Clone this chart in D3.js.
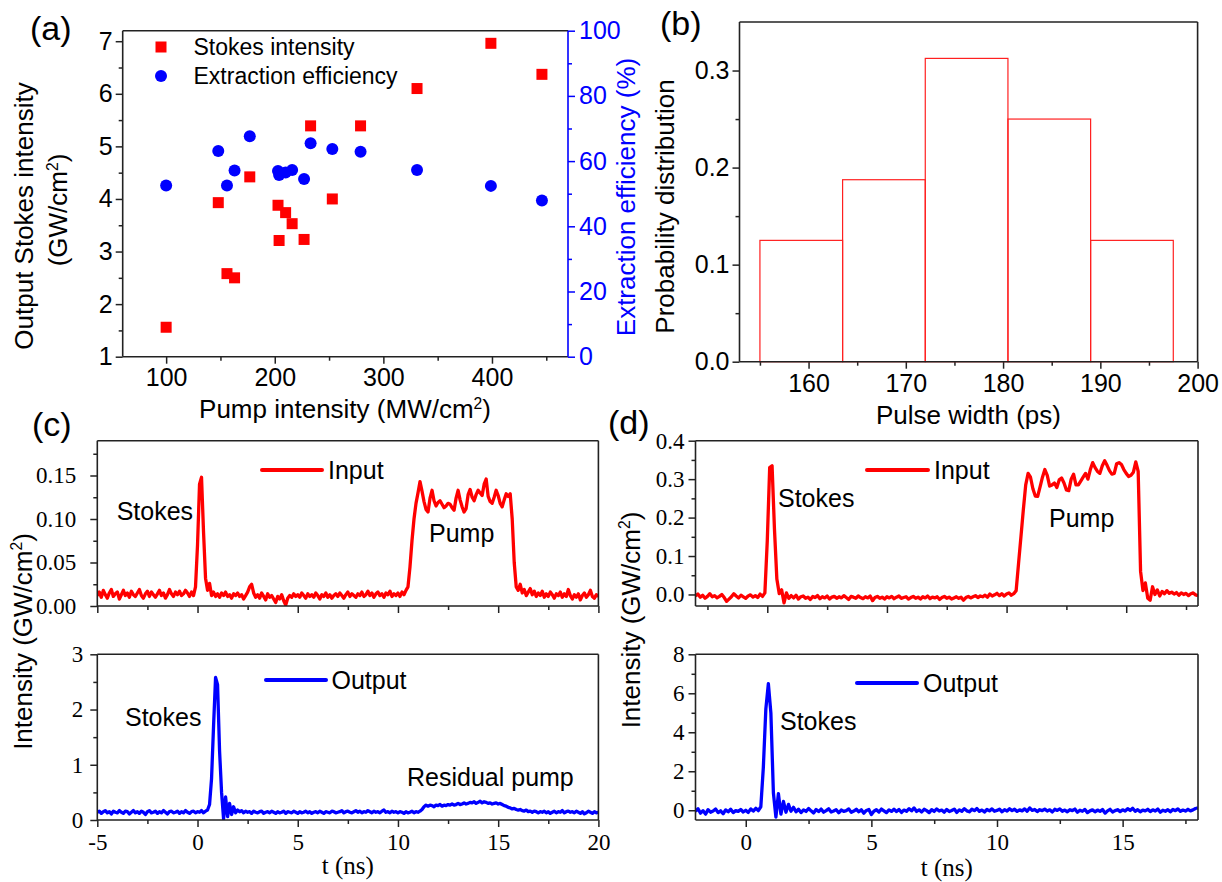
<!DOCTYPE html>
<html><head><meta charset="utf-8">
<script src="https://cdn.jsdelivr.net/npm/d3@7"></script>
<style>body{margin:0;background:#fff}</style>
</head><body>
<script>
// ---------------- DATA ----------------
// (a) scatter
const pumpIntensity   = [100, 148, 156, 163, 177, 203, 204, 210, 216, 227, 233, 253, 279, 331, 399, 446];
const stokesIntensity = [1.56, 3.93, 2.58, 2.50, 4.42, 3.88, 3.21, 3.74, 3.53, 3.23, 5.39, 4.00, 5.39, 6.10, 6.96, 6.37];
const extractionEff   = [52.5, 63.1, 52.5, 57.1, 67.6, 57.0, 55.7, 56.5, 57.3, 54.5, 65.5, 63.7, 62.9, 57.3, 52.4, 47.9];
const aXTicks = [100, 200, 300, 400];
const aYTicks = [1, 2, 3, 4, 5, 6, 7];
const aY2Ticks = [0, 20, 40, 60, 80, 100];

// (b) histogram
const histEdges = [155, 163.5, 172, 180.5, 189, 197.5];
const histProb  = [0.125, 0.1875, 0.3125, 0.25, 0.125];
const bXTicks = [160, 170, 180, 190, 200];
const bYTicks = [0, 0.1, 0.2, 0.3];

// (c) time traces, sampled every 0.1 ns from -5 ns
const cStart = -5, cStep = 0.1;
const cInput = [
0.012,0.016,0.010,0.018,0.013,0.009,0.015,0.019,0.011,0.014,
0.016,0.008,0.013,0.018,0.012,0.015,0.010,0.017,0.013,0.011,
0.015,0.019,0.012,0.009,0.014,0.017,0.011,0.016,0.013,0.010,
0.014,0.018,0.012,0.015,0.009,0.013,0.019,0.014,0.011,0.016,
0.013,0.017,0.012,0.014,0.018,0.015,0.011,0.016,0.012,0.022,
0.070,0.140,0.148,0.085,0.032,0.018,0.026,0.012,0.016,0.011,
0.014,0.010,0.015,0.012,0.016,0.011,0.013,0.009,0.014,0.012,
0.015,0.011,0.013,0.008,0.012,0.016,0.022,0.025,0.015,0.010,
0.013,0.009,0.015,0.011,0.007,0.014,0.010,0.012,0.008,0.004,
0.011,0.008,0.013,0.006,0.001,0.009,0.012,0.010,0.014,0.011,
0.013,0.010,0.015,0.012,0.009,0.014,0.011,0.013,0.010,0.015,
0.012,0.008,0.013,0.011,0.015,0.010,0.013,0.009,0.012,0.014,
0.011,0.015,0.012,0.009,0.013,0.016,0.011,0.014,0.012,0.010,
0.014,0.012,0.016,0.011,0.013,0.017,0.012,0.015,0.010,0.014,
0.016,0.012,0.014,0.010,0.015,0.013,0.017,0.011,0.014,0.012,
0.015,0.011,0.016,0.013,0.018,0.022,0.045,0.075,0.100,0.118,
0.130,0.143,0.132,0.120,0.111,0.108,0.124,0.133,0.121,0.115,
0.119,0.121,0.117,0.113,0.115,0.118,0.117,0.113,0.110,0.124,
0.133,0.122,0.114,0.108,0.112,0.128,0.134,0.125,0.121,0.128,
0.133,0.130,0.127,0.140,0.146,0.126,0.120,0.118,0.125,0.133,
0.127,0.118,0.114,0.122,0.129,0.126,0.129,0.100,0.050,0.022,
0.018,0.025,0.015,0.019,0.012,0.016,0.020,0.013,0.017,0.011,
0.015,0.012,0.017,0.010,0.014,0.011,0.016,0.013,0.009,0.014,
0.012,0.016,0.010,0.014,0.011,0.019,0.012,0.008,0.013,0.010,
0.014,0.007,0.012,0.015,0.010,0.013,0.018,0.011,0.009,0.013,
0.011];
const cOutput = [
0.14,0.16,0.12,0.15,0.17,0.13,0.15,0.11,0.16,0.14,
0.13,0.17,0.14,0.12,0.16,0.15,0.11,0.14,0.17,0.13,
0.15,0.12,0.16,0.14,0.10,0.15,0.17,0.13,0.14,0.16,
0.12,0.15,0.13,0.17,0.14,0.11,0.15,0.16,0.13,0.14,
0.16,0.12,0.15,0.13,0.17,0.14,0.12,0.15,0.16,0.13,
0.15,0.14,0.17,0.13,0.16,0.18,0.28,0.75,1.70,2.58,
2.45,1.25,0.50,0.02,0.42,0.06,0.30,0.10,0.24,0.13,
0.18,0.15,0.17,0.13,0.16,0.14,0.15,0.12,0.16,0.14,
0.13,0.15,0.16,0.12,0.14,0.15,0.13,0.16,0.14,0.12,
0.15,0.13,0.14,0.16,0.12,0.15,0.14,0.13,0.16,0.14,
0.12,0.15,0.13,0.14,0.16,0.13,0.15,0.12,0.14,0.15,
0.13,0.16,0.14,0.12,0.15,0.14,0.13,0.16,0.15,0.13,
0.14,0.15,0.17,0.13,0.15,0.16,0.14,0.13,0.15,0.17,
0.14,0.16,0.13,0.15,0.14,0.17,0.15,0.13,0.16,0.14,
0.15,0.13,0.16,0.18,0.14,0.15,0.13,0.16,0.14,0.15,
0.13,0.15,0.14,0.12,0.15,0.13,0.14,0.16,0.13,0.15,
0.14,0.16,0.19,0.24,0.27,0.25,0.27,0.26,0.24,0.27,
0.26,0.28,0.25,0.27,0.26,0.28,0.27,0.29,0.27,0.28,
0.30,0.28,0.29,0.31,0.29,0.30,0.32,0.31,0.33,0.30,
0.32,0.34,0.31,0.33,0.32,0.30,0.31,0.29,0.30,0.31,
0.29,0.30,0.28,0.26,0.25,0.23,0.22,0.20,0.21,0.19,
0.18,0.19,0.17,0.16,0.18,0.15,0.16,0.14,0.16,0.15,
0.13,0.15,0.14,0.16,0.13,0.15,0.12,0.14,0.16,0.13,
0.15,0.14,0.17,0.13,0.15,0.16,0.14,0.15,0.13,0.16,
0.14,0.12,0.15,0.11,0.13,0.16,0.14,0.12,0.15,0.13,
0.14];

// (d) input trace from -3 ns, output trace from -2 ns, step 0.1 ns
const dInStart = -3, dOutStart = -2, dStep = 0.1;
const dInput = [
-0.004,0.001,-0.007,-0.002,-0.010,-0.005,0.002,-0.006,-0.003,-0.009,
-0.005,0.000,-0.008,-0.018,-0.012,-0.006,0.002,-0.004,-0.009,-0.002,
-0.006,-0.010,-0.004,-0.001,-0.007,-0.003,-0.008,0.001,-0.005,0.004,
0.140,0.330,0.335,0.170,0.040,0.002,0.012,-0.022,0.004,-0.010,
-0.003,-0.009,-0.002,-0.012,-0.006,-0.004,-0.010,-0.007,-0.013,-0.005,
-0.008,-0.003,-0.011,-0.006,-0.009,-0.004,-0.012,-0.007,-0.005,-0.010,
-0.006,-0.009,-0.003,-0.008,-0.013,-0.005,-0.007,-0.010,-0.004,-0.008,
-0.011,-0.006,-0.009,-0.004,-0.016,-0.008,-0.005,-0.010,-0.007,-0.012,
-0.006,-0.009,-0.005,-0.011,-0.007,-0.004,-0.010,-0.008,-0.006,-0.012,
-0.008,-0.005,-0.010,-0.007,-0.012,-0.006,-0.009,-0.004,-0.011,-0.007,
-0.009,-0.006,-0.013,-0.008,-0.005,-0.010,-0.007,-0.012,-0.009,-0.006,
-0.010,-0.007,-0.015,-0.008,-0.005,-0.009,-0.006,-0.003,-0.008,-0.004,
-0.006,-0.002,-0.007,0.001,-0.004,-0.001,0.003,-0.003,0.002,-0.004,
0.001,0.004,-0.002,0.002,0.010,0.080,0.150,0.220,0.285,0.315,
0.305,0.275,0.256,0.255,0.280,0.305,0.325,0.310,0.282,0.285,
0.290,0.278,0.298,0.303,0.290,0.272,0.270,0.300,0.313,0.285,
0.285,0.295,0.305,0.315,0.300,0.325,0.343,0.330,0.320,0.315,
0.335,0.348,0.336,0.322,0.313,0.315,0.340,0.343,0.338,0.325,
0.315,0.307,0.310,0.318,0.345,0.320,0.060,0.010,0.030,-0.010,
-0.015,0.020,0.000,0.012,-0.004,0.008,0.002,0.010,0.003,0.006,
0.001,0.005,-0.002,0.004,0.000,0.003,-0.003,0.002,0.004,-0.001,
-0.003];
const dOutput = [
-0.05,0.08,-0.15,-0.02,-0.20,0.03,-0.10,-0.04,0.06,-0.12,
-0.03,-0.18,0.02,-0.08,0.05,-0.12,-0.02,-0.06,0.04,-0.09,
0.00,-0.11,0.07,-0.04,0.10,-0.02,0.18,2.20,5.20,6.50,
5.00,0.90,-0.35,0.85,-0.20,0.45,-0.10,0.30,-0.05,0.15,
-0.08,0.05,-0.12,0.02,-0.06,0.09,-0.03,-0.14,0.04,-0.07,
0.06,-0.10,-0.02,0.08,-0.09,-0.04,0.03,-0.13,0.01,-0.06,
-0.02,0.07,-0.11,-0.04,0.05,-0.08,0.02,-0.15,-0.01,0.04,
-0.22,-0.05,0.03,-0.09,0.06,-0.03,-0.12,0.02,-0.06,0.05,
-0.07,0.04,-0.11,0.01,-0.05,0.08,-0.03,0.12,-0.06,0.02,
-0.09,0.05,-0.02,-0.12,0.03,-0.06,0.07,-0.04,0.01,-0.10,
0.04,-0.07,-0.01,0.06,-0.11,0.02,-0.05,0.08,-0.03,-0.08,
0.05,-0.02,0.09,-0.06,0.01,-0.09,0.04,-0.03,0.07,-0.05,
-0.01,0.06,-0.08,0.03,-0.04,0.08,-0.02,0.05,-0.06,0.02,
-0.03,0.07,-0.05,0.12,-0.01,0.04,-0.07,0.03,-0.02,0.06,
-0.04,0.02,-0.09,0.05,-0.01,0.07,-0.05,0.01,-0.08,0.03,
-0.02,0.06,-0.10,0.00,-0.05,0.04,-0.12,-0.03,0.02,-0.08,
0.01,-0.06,0.04,-0.15,-0.03,0.05,-0.09,-0.02,0.03,-0.07,
0.02,-0.04,0.08,-0.01,0.10,-0.05,0.03,-0.08,0.01,-0.03,
0.05,-0.07,0.02,-0.04,0.06,-0.10,0.00,-0.05,0.03,-0.08,
0.04,-0.02,0.07,-0.06,0.01,-0.04,0.05,-0.03,0.02,0.09,
0.12];

// ---------------- DRAWING ----------------
const SANS = "'Liberation Sans', Arial, Helvetica, sans-serif";
const SERIF = "'Liberation Serif', 'Times New Roman', serif";
const RED = "#ff0000", BLUE = "#0000ff", AX = "#222";

const svg = d3.select("body").append("svg")
  .attr("width", 1222).attr("height", 882)
  .style("background", "#fff");

function axis(kind, scale, pos, major, minor, fmt, o) {
  const mk = kind === "bottom" ? d3.axisBottom : kind === "left" ? d3.axisLeft : d3.axisRight;
  const tr = kind === "bottom" ? `translate(0,${pos})` : `translate(${pos},0)`;
  const col = o.color || AX;
  const gm = svg.append("g").attr("transform", tr)
    .call(mk(scale).tickValues(minor).tickSize(4).tickFormat(""));
  const gM = svg.append("g").attr("transform", tr)
    .call(mk(scale).tickValues(major).tickSize(7).tickPadding(o.pad).tickFormat(fmt));
  [gm, gM].forEach(a => {
    a.select(".domain").remove();
    a.selectAll("line").attr("stroke", col).attr("stroke-width", 1.5);
  });
  gM.selectAll("text").attr("font-family", o.font).attr("font-size", o.size)
    .attr("fill", o.textColor || "#000");
}

function frame(l, r, t, b, rightColor) {
  const g = svg.append("g").attr("stroke-width", 1.6).attr("fill", "none");
  g.append("line").attr("x1", l).attr("x2", r).attr("y1", t).attr("y2", t).attr("stroke", AX);
  g.append("line").attr("x1", l).attr("x2", r).attr("y1", b).attr("y2", b).attr("stroke", AX);
  g.append("line").attr("x1", l).attr("x2", l).attr("y1", t).attr("y2", b).attr("stroke", AX);
  g.append("line").attr("x1", r).attr("x2", r).attr("y1", t).attr("y2", b).attr("stroke", rightColor || AX);
}

function label(x, y, str, fs, opts = {}) {
  const t = svg.append("text").attr("x", x).attr("y", y)
    .attr("font-family", opts.font || SANS).attr("font-size", fs)
    .attr("fill", opts.fill || "#000")
    .attr("text-anchor", opts.anchor || "start");
  if (opts.rotate) {
    t.attr("x", null).attr("y", null)
     .attr("transform", `translate(${x},${y}) rotate(-90)`);
  }
  if (opts.sup) {
    t.append("tspan").text(str);
    t.append("tspan").attr("font-size", fs * 0.6).attr("dy", -fs * 0.36).text(opts.sup);
    t.append("tspan").attr("font-size", fs).attr("dy", fs * 0.36).text(opts.after || "");
  } else {
    t.text(str);
  }
  return t;
}

function clip(id, l, r, t, b) {
  svg.append("clipPath").attr("id", id).append("rect")
    .attr("x", l).attr("y", t).attr("width", r - l).attr("height", b - t);
}

const plain = d => String(d);

// ===== (a) =====
const A = {l: 122.7, r: 568, t: 30.7, b: 356.7};
const xA = d3.scaleLinear().domain([60, 470]).range([A.l, A.r]);
const yA = d3.scaleLinear().domain([1, 7.2]).range([A.b, A.t]);
const yA2 = d3.scaleLinear().domain([0, 100]).range([A.b, A.t]);

axis("bottom", xA, A.b, aXTicks, [150, 250, 350, 450], plain, {pad: 5, font: SANS, size: 25});
axis("left", yA, A.l, aYTicks, [1.5, 2.5, 3.5, 4.5, 5.5, 6.5], plain, {pad: 3, font: SANS, size: 25});
axis("right", yA2, A.r, aY2Ticks, [10, 30, 50, 70, 90], plain, {pad: 4, font: SANS, size: 25, color: BLUE, textColor: BLUE});
frame(A.l, A.r, A.t, A.b, BLUE);

svg.append("g").selectAll("rect").data(pumpIntensity).join("rect")
  .attr("x", (d, i) => xA(d) - 5.5).attr("y", (d, i) => yA(stokesIntensity[i]) - 5.5)
  .attr("width", 11).attr("height", 11).attr("fill", RED);
svg.append("g").selectAll("circle").data(pumpIntensity).join("circle")
  .attr("cx", d => xA(d)).attr("cy", (d, i) => yA2(extractionEff[i]))
  .attr("r", 6).attr("fill", BLUE);

// legend
svg.append("rect").attr("x", 155.5).attr("y", 41.5).attr("width", 11).attr("height", 11).attr("fill", RED);
label(193.5, 55, "Stokes intensity", 23);
svg.append("circle").attr("cx", 161).attr("cy", 76).attr("r", 6).attr("fill", BLUE);
label(193.5, 84, "Extraction efficiency", 23);

label(33, 216, "Output Stokes intensity", 26, {rotate: true, anchor: "middle"});
label(67, 210, "(GW/cm", 26, {rotate: true, anchor: "middle", sup: "2", after: ")"});
label(634.5, 197, "Extraction efficiency (%)", 26, {rotate: true, anchor: "middle", fill: BLUE});
label(345, 418, "Pump intensity (MW/cm", 26, {anchor: "middle", sup: "2", after: ")"});
label(30, 40, "(a)", 34);

// ===== (b) =====
const B = {l: 739.5, r: 1197.6, t: 22, b: 361.7};
const xB = d3.scaleLinear().domain([152.9, 200]).range([B.l, B.r]);
const yB = d3.scaleLinear().domain([0, 0.35]).range([B.b, B.t]);
axis("bottom", xB, B.b, bXTicks, [155, 165, 175, 185, 195], plain, {pad: 6, font: SANS, size: 25});
axis("left", yB, B.l, bYTicks, [0.05, 0.15, 0.25], d3.format(".1f"), {pad: 3, font: SANS, size: 25});
svg.append("g").selectAll("rect").data(histProb).join("rect")
  .attr("x", (d, i) => xB(histEdges[i]))
  .attr("width", (d, i) => xB(histEdges[i + 1]) - xB(histEdges[i]))
  .attr("y", d => yB(d)).attr("height", d => yB(0) - yB(d))
  .attr("fill", "none").attr("stroke", "#ff2020").attr("stroke-width", 1.2);
frame(B.l, B.r, B.t, B.b);
label(674.2, 206.5, "Probability distribution", 26, {rotate: true, anchor: "middle"});
label(968.5, 424, "Pulse width (ps)", 26, {anchor: "middle"});
label(660, 35, "(b)", 34);

// ===== trace helper =====
function trace(values, start, step, xs, ys, color, clipId) {
  const pts = values.map((v, i) => [start + i * step, v]);
  svg.append("path").datum(pts)
    .attr("clip-path", `url(#${clipId})`)
    .attr("d", d3.line().x(d => xs(d[0])).y(d => ys(d[1])))
    .attr("fill", "none").attr("stroke", color).attr("stroke-width", 3.3)
    .attr("stroke-linejoin", "round");
}
function legendLine(x1, x2, y, color, txt, tx, ty) {
  svg.append("line").attr("x1", x1).attr("x2", x2).attr("y1", y).attr("y2", y)
    .attr("stroke", color).attr("stroke-width", 4).attr("stroke-linecap", "round");
  label(tx, ty, txt, 25);
}

// ===== (c) =====
const C = {l: 97.3, r: 598.4};
const C1 = {t: 440.7, b: 606}, C2 = {t: 654.3, b: 820};
const xC = d3.scaleLinear().domain([-5, 20]).range([C.l, C.r]);
const yC1 = d3.scaleLinear().domain([0, 0.19]).range([C1.b, C1.t]);
const yC2 = d3.scaleLinear().domain([0, 3]).range([C2.b, C2.t]);
clip("clipC1", C.l, C.r, C1.t, C1.b);
clip("clipC2", C.l, C.r, C2.t, C2.b);
const cXMinor = [-2.5, 2.5, 7.5, 12.5, 17.5];
axis("bottom", xC, C1.b, [-5, 0, 5, 10, 15, 20], cXMinor, () => "", {pad: 6, font: SERIF, size: 23});
axis("bottom", xC, C2.b, [-5, 0, 5, 10, 15, 20], cXMinor, plain, {pad: 7, font: SERIF, size: 23});
axis("left", yC1, C.l, [0, 0.05, 0.10, 0.15], [0.025, 0.075, 0.125, 0.175], d3.format(".2f"), {pad: 14, font: SERIF, size: 23});
axis("left", yC2, C.l, [0, 1, 2, 3], [0.5, 1.5, 2.5], plain, {pad: 7, font: SERIF, size: 23});
trace(cInput, cStart, cStep, xC, yC1, RED, "clipC1");
trace(cOutput, cStart, cStep, xC, yC2, BLUE, "clipC2");
frame(C.l, C.r, C1.t, C1.b);
frame(C.l, C.r, C2.t, C2.b);
legendLine(262, 322, 470, RED, "Input", 328, 479);
legendLine(266, 326, 680, BLUE, "Output", 331.5, 688.5);
label(116.7, 520, "Stokes", 25);
label(429, 541.5, "Pump", 25);
label(125, 726, "Stokes", 25);
label(407, 786, "Residual pump", 25);
label(31.5, 641.5, "Intensity (GW/cm", 26, {rotate: true, anchor: "middle", sup: "2", after: ")"});
label(347.8, 874, "t (ns)", 25, {anchor: "middle", font: SERIF});
label(32, 436, "(c)", 34);

// ===== (d) =====
const D = {l: 695.5, r: 1198};
const D1 = {t: 440.7, b: 606}, D2 = {t: 654.3, b: 820};
const xD1 = d3.scaleLinear().domain([-3, 18]).range([D.l, D.r]);
const xD2 = d3.scaleLinear().domain([-2, 18]).range([D.l, D.r]);
const yD1 = d3.scaleLinear().domain([-0.03, 0.4]).range([D1.b, D1.t]);
const yD2 = d3.scaleLinear().domain([-0.5, 8]).range([D2.b, D2.t]);
clip("clipD1", D.l, D.r, D1.t, D1.b);
clip("clipD2", D.l, D.r, D2.t, D2.b);
axis("bottom", xD1, D1.b, [0, 5, 10, 15], [-2.5, 2.5, 7.5, 12.5, 17.5], () => "", {pad: 6, font: SERIF, size: 23});
axis("bottom", xD2, D2.b, [0, 5, 10, 15], [2.5, 7.5, 12.5, 17.5], plain, {pad: 7, font: SERIF, size: 23});
axis("left", yD1, D.l, [0, 0.1, 0.2, 0.3, 0.4], [0.05, 0.15, 0.25, 0.35], d3.format(".1f"), {pad: 4, font: SERIF, size: 23});
axis("left", yD2, D.l, [0, 2, 4, 6, 8], [1, 3, 5, 7], plain, {pad: 4, font: SERIF, size: 23});
trace(dInput, dInStart, dStep, xD1, yD1, RED, "clipD1");
trace(dOutput, dOutStart, dStep, xD2, yD2, BLUE, "clipD2");
frame(D.l, D.r, D1.t, D1.b);
frame(D.l, D.r, D2.t, D2.b);
legendLine(867, 928, 470, RED, "Input", 934, 479);
legendLine(857, 917, 683, BLUE, "Output", 923, 692);
label(778, 507, "Stokes", 25);
label(1049, 527, "Pump", 25);
label(780, 730, "Stokes", 25);
label(639.8, 620, "Intensity (GW/cm", 26, {rotate: true, anchor: "middle", sup: "2", after: ")"});
label(946.8, 876, "t (ns)", 25, {anchor: "middle", font: SERIF});
label(608, 434, "(d)", 34);
</script>
</body></html>
